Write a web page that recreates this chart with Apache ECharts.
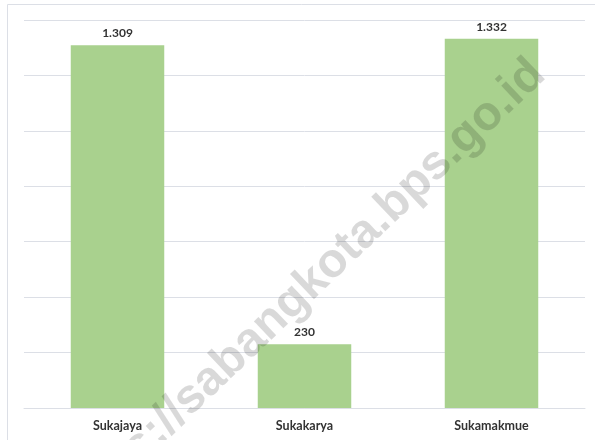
<!DOCTYPE html>
<html>
<head>
<meta charset="utf-8">
<script src="https://cdn.jsdelivr.net/npm/echarts@6/dist/echarts.min.js"></script>
<style>
html,body{margin:0;padding:0;background:#fff;}
#chart{width:595px;height:440px;}
</style>
</head>
<body>
<div id="chart"></div>
<script>
var categories = ['Sukajaya', 'Sukakarya', 'Sukamakmue'];
var values = [1309, 230, 1332];
var yMax = 1400;
var yInterval = 200;
var watermark = 'https://sabangkota.bps.go.id';

function fmt(v) {
  return String(v).replace(/\B(?=(\d{3})+(?!\d))/g, '.');
}

var chart = echarts.init(document.getElementById('chart'), null, {renderer: 'canvas'});
chart.setOption({
  animation: false,
  backgroundColor: '#ffffff',
  grid: {left: 24, right: 10, top: 20, bottom: 32, containLabel: false},
  xAxis: {
    type: 'category',
    data: categories,
    axisLine: {show: true, lineStyle: {color: '#dcdfe6', width: 1}},
    axisTick: {show: false},
    axisLabel: {
      color: '#333333',
      fontFamily: 'Lato',
      fontWeight: 'bold',
      fontSize: 12.5,
      margin: 11
    }
  },
  yAxis: {
    type: 'value',
    min: 0,
    max: yMax,
    interval: yInterval,
    axisLine: {show: false},
    axisTick: {show: false},
    axisLabel: {show: false},
    splitLine: {show: true, lineStyle: {color: '#dcdfe6', width: 1}}
  },
  series: [{
    type: 'bar',
    data: values,
    barWidth: '50%',
    itemStyle: {color: '#a9d18e'},
    label: {
      show: true,
      position: 'top',
      distance: 6,
      color: '#333333',
      fontFamily: 'Lato',
      fontWeight: 'bold',
      fontSize: 12,
      formatter: function (p) { return fmt(p.value); }
    }
  }],
  graphic: [
    {
      type: 'rect',
      shape: {x: 7.5, y: 4.5, width: 600, height: 460},
      style: {fill: 'none', stroke: '#dcdfe6', lineWidth: 1},
      silent: true,
      z: 0
    },
    {
      type: 'text',
      x: 538,
      y: 67.5,
      rotation: 43.6 * Math.PI / 180,
      style: {
        text: watermark,
        font: 'bold 48px "Liberation Sans"',
        fill: 'rgba(0,0,0,0.15)',
        textAlign: 'right',
        textVerticalAlign: 'middle'
      },
      silent: true,
      z: 100
    }
  ]
});
</script>
</body>
</html>
